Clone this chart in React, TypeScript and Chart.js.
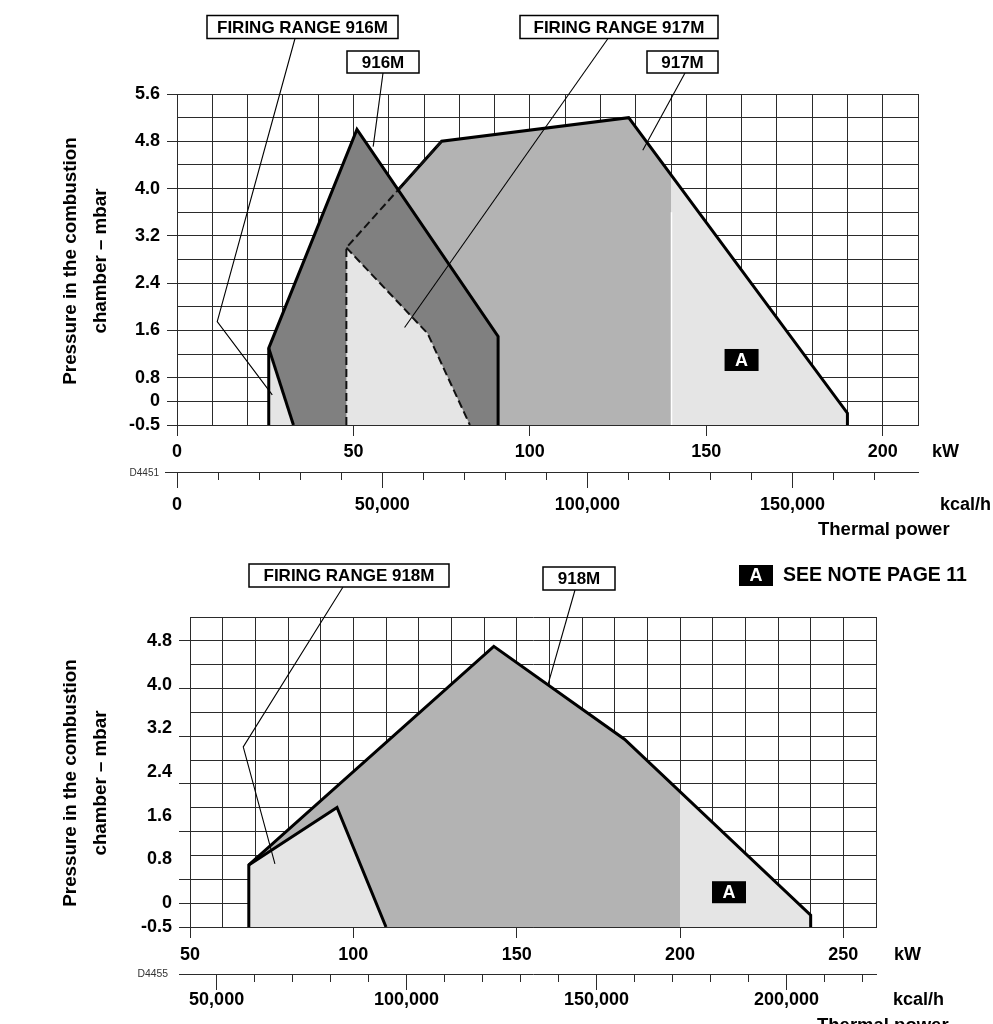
import React, { useEffect, useRef } from 'react';
import { Chart, registerables } from 'chart.js';

Chart.register(...registerables);

const FONT = "'Liberation Sans', Arial, Helvetica, sans-serif";
const KCAL_PER_KW = 859.845;
const GRID = '#2b2b2b';
const INK = '#000000';
const LIGHT = '#e5e5e5';
const MEDIUM = '#b3b3b3';
const DARK = '#808080';

Chart.defaults.font.family = FONT;
Chart.defaults.color = INK;

type Pt = [number, number];

// ================= Upper diagram : 916M / 917M =================
const topKwLabels = [0, 50, 100, 150, 200];
const topKcalTicks = [0, 10000, 20000, 30000, 40000, 50000, 60000, 70000, 80000, 90000, 100000, 110000, 120000, 130000, 140000, 150000, 160000, 170000];
const topKcalLabels = [0, 50000, 100000, 150000];
const topPressureLabels = [-0.5, 0, 0.8, 1.6, 2.4, 3.2, 4.0, 4.8, 5.6];
const topPressureRows: Pt[] = [[-0.5, 0], [0, 1], [0.8, 2], [5.6, 14]];
const topTickRows = [0, 1, 2, 4, 6, 8, 10, 12, 14];

// burner 917M working field (kW, mbar)
const burner917X = [48, 48, 75, 128, 190, 190];
const burner917Y = [-0.5, 3.0, 4.8, 5.2, -0.25, -0.5];
// part of 917M field below 140 kW (outside zone A)
const burner917StdX = [48, 48, 75, 128, 140, 140];
const burner917StdY = [-0.5, 3.0, 4.8, 5.2, 4.25, -0.5];
// burner 916M working field
const burner916X = [26, 26, 51, 91, 91];
const burner916Y = [-0.5, 1.3, 5.0, 1.5, -0.5];
// firing ranges
const firing917X = [48, 48, 71, 83];
const firing917Y = [-0.5, 3.0, 1.55, -0.5];
const firing916X = [26, 26, 33];
const firing916Y = [-0.5, 1.3, -0.5];

// ================= Lower diagram : 918M =================
const botKwLabels = [50, 100, 150, 200, 250];
const botKcalTicks = [50000, 60000, 70000, 80000, 90000, 100000, 110000, 120000, 130000, 140000, 150000, 160000, 170000, 180000, 190000, 200000, 210000, 220000];
const botKcalLabels = [50000, 100000, 150000, 200000];
const botPressureLabels = [-0.5, 0, 0.8, 1.6, 2.4, 3.2, 4.0, 4.8];
const botPressureRows: Pt[] = [[-0.5, 0], [0, 1], [4.8, 12]];
const botTickRows = [0, 1, 2, 4, 6, 8, 10, 12];

const burner918X = [68, 68, 143, 183, 240, 240];
const burner918Y = [-0.5, 0.7, 4.7, 3.0, -0.25, -0.5];
const burner918StdX = [68, 68, 143, 183, 200, 200];
const burner918StdY = [-0.5, 0.7, 4.7, 3.0, 2.04, -0.5];
const firing918X = [68, 68, 95, 110];
const firing918Y = [-0.5, 0.7, 1.75, -0.5];

// ---------------------------------------------------------------
interface Layer { kind: 'fill' | 'line' | 'dash'; xs: number[]; ys: number[]; color?: string }
interface Callout { text: string; box: [number, number, number, number]; anchor: Pt; path: Pt[] }
interface TextItem { text: string; x: number; y: number; size: number; align: CanvasTextAlign; weight?: string; color?: string }
interface Frame {
  left: number; right: number; top: number; bottom: number;
  labelAxisWidth: number; yTickLen: number; xTickLen: number;
  xHeight: number; x2Height: number; xPad: number; x2Pad: number; yPad: number;
}
interface Spec {
  kwMin: number; kwMax: number; kwLabels: number[];
  kcalTicks: number[]; kcalLabels: number[];
  pressureLabels: number[]; pressureRows: Pt[]; gridRows: number; tickRows: number[];
  layers: Layer[];
  frame: Frame;
  texts: TextItem[];
  titles: TextItem[];
  callouts: Callout[];
  marks: Pt[];
  separators: { x: number; from: number; to: number }[];
  axisLineFrom: number;
  legend?: { box: [number, number, number, number]; text: string; x: number; y: number; size: number };
}

function rowMapper(breaks: Pt[]) {
  return (p: number) => {
    const n = breaks.length;
    let i = 0;
    while (i < n - 2 && p > breaks[i + 1][0]) i++;
    const [p0, r0] = breaks[i];
    const [p1, r1] = breaks[i + 1];
    return r0 + ((p - p0) * (r1 - r0)) / (p1 - p0);
  };
}

const fmtP = (p: number) => (p === 0 ? '0' : p.toFixed(1));
const font = (size: number, weight = 'bold') => `${weight} ${size}px ${FONT}`;
const align = (v: number) => Math.round(v - 0.5) + 0.5;

const topSpec: Spec = {
  kwMin: 0, kwMax: 210, kwLabels: topKwLabels,
  kcalTicks: topKcalTicks, kcalLabels: topKcalLabels,
  pressureLabels: topPressureLabels, pressureRows: topPressureRows, gridRows: 14, tickRows: topTickRows,
  layers: [
    { kind: 'fill', xs: burner917X, ys: burner917Y, color: LIGHT },
    { kind: 'fill', xs: burner917StdX, ys: burner917StdY, color: MEDIUM },
    { kind: 'line', xs: burner917X.slice(1), ys: burner917Y.slice(1) },
    { kind: 'fill', xs: burner916X, ys: burner916Y, color: DARK },
    { kind: 'fill', xs: firing917X, ys: firing917Y, color: LIGHT },
    { kind: 'fill', xs: firing916X, ys: firing916Y, color: LIGHT },
    { kind: 'dash', xs: burner917X.slice(0, 3), ys: burner917Y.slice(0, 3) },
    { kind: 'dash', xs: firing917X.slice(1), ys: firing917Y.slice(1) },
    { kind: 'line', xs: burner916X, ys: burner916Y },
    { kind: 'line', xs: firing916X.slice(1), ys: firing916Y.slice(1) },
  ],
  frame: {
    left: 177, right: 918, top: 94, bottom: 425,
    labelAxisWidth: 167, yTickLen: 10, xTickLen: 11,
    xHeight: 47, x2Height: 80, xPad: 5, x2Pad: 14, yPad: 7,
  },
  texts: [
    { text: 'kW', x: 932, y: 452, size: 18, align: 'left' },
    { text: 'kcal/h', x: 940, y: 505, size: 18, align: 'left' },
    { text: 'Thermal power', x: 818, y: 530, size: 18.5, align: 'left' },
    { text: 'D4451', x: 159, y: 473, size: 10, align: 'left', weight: 'normal', color: '#333333' },
  ],
  titles: [
    { text: 'Pressure in the combustion', x: 71, y: 261, size: 18.8, align: 'center' },
    { text: 'chamber – mbar', x: 101, y: 261, size: 18.8, align: 'center' },
  ],
  callouts: [
    { text: 'FIRING RANGE 916M', box: [207, 15.5, 191, 23], anchor: [295, 38.5], path: [[11.4, 1.75], [27, 0.22]] },
    { text: '916M', box: [347, 51, 72, 22], anchor: [383, 73], path: [[55.6, 4.71]] },
    { text: 'FIRING RANGE 917M', box: [520, 15.5, 198, 23], anchor: [608, 38.5], path: [[64.5, 1.65]] },
    { text: '917M', box: [647, 51, 71, 22], anchor: [685, 73], path: [[132, 4.65]] },
  ],
  marks: [[160, 1.1]],
  separators: [{ x: 140, from: -0.5, to: 3.6 }],
  axisLineFrom: 165,
};
topSpec.texts[3].align = 'right';

const botSpec: Spec = {
  kwMin: 50, kwMax: 260, kwLabels: botKwLabels,
  kcalTicks: botKcalTicks, kcalLabels: botKcalLabels,
  pressureLabels: botPressureLabels, pressureRows: botPressureRows, gridRows: 13, tickRows: botTickRows,
  layers: [
    { kind: 'fill', xs: burner918X, ys: burner918Y, color: LIGHT },
    { kind: 'fill', xs: burner918StdX, ys: burner918StdY, color: MEDIUM },
    { kind: 'fill', xs: firing918X, ys: firing918Y, color: LIGHT },
    { kind: 'line', xs: burner918X, ys: burner918Y },
    { kind: 'line', xs: firing918X.slice(1), ys: firing918Y.slice(1) },
  ],
  frame: {
    left: 190, right: 876, top: 617, bottom: 927,
    labelAxisWidth: 179, yTickLen: 11, xTickLen: 11,
    xHeight: 47, x2Height: 50, xPad: 6, x2Pad: 7, yPad: 7,
  },
  texts: [
    { text: 'kW', x: 894, y: 955, size: 18, align: 'left' },
    { text: 'kcal/h', x: 893, y: 1000, size: 18, align: 'left' },
    { text: 'Thermal power', x: 817, y: 1026, size: 18.5, align: 'left' },
    { text: 'D4455', x: 168, y: 974, size: 10.4, align: 'right', weight: 'normal', color: '#333333' },
  ],
  titles: [
    { text: 'Pressure in the combustion', x: 71, y: 783, size: 18.8, align: 'center' },
    { text: 'chamber – mbar', x: 101, y: 783, size: 18.8, align: 'center' },
  ],
  callouts: [
    { text: 'FIRING RANGE 918M', box: [249, 564, 200, 23], anchor: [343, 587], path: [[66.3, 2.86], [76, 0.72]] },
    { text: '918M', box: [543, 567, 72, 23], anchor: [575, 590], path: [[159.5, 3.98]] },
  ],
  marks: [[215, 0.2]],
  separators: [],
  axisLineFrom: 179,
  legend: { box: [739, 565, 34, 21], text: 'SEE NOTE PAGE 11', x: 783, y: 576, size: 19.5 },
};

function drawA(ctx: CanvasRenderingContext2D, x: number, y: number, w: number, h: number) {
  ctx.fillStyle = INK;
  ctx.fillRect(x, y, w, h);
  ctx.fillStyle = '#ffffff';
  ctx.font = font(18);
  ctx.textAlign = 'center';
  ctx.textBaseline = 'middle';
  ctx.fillText('A', x + w / 2, y + h / 2 + 1);
}

function buildChart(canvas: HTMLCanvasElement, s: Spec): Chart {
  const rowOf = rowMapper(s.pressureRows);
  const f = s.frame;
  const tickFont = { family: FONT, size: 18, weight: 'bold' as const };
  const clear = 'rgba(0,0,0,0)';

  const datasets = s.layers.map((L, i) => {
    const data = L.xs.map((x, j) => ({ x, y: rowOf(L.ys[j]) }));
    const base: any = {
      data, xAxisID: 'x', yAxisID: 'y', order: 1000 - i,
      pointRadius: 0, pointHoverRadius: 0, tension: 0,
    };
    if (L.kind === 'fill') {
      return { ...base, fill: 'shape', backgroundColor: L.color, borderColor: clear, borderWidth: 0 };
    }
    if (L.kind === 'line') {
      return { ...base, fill: false, borderColor: INK, borderWidth: 3, borderJoinStyle: 'miter', borderCapStyle: 'butt' };
    }
    return { ...base, fill: false, borderColor: '#111111', borderWidth: 2, borderDash: [8, 4] };
  });

  const decor = {
    id: 'decor',
    afterDraw(chart: any) {
      const ctx: CanvasRenderingContext2D = chart.ctx;
      const sx = chart.scales.x;
      const sy = chart.scales.y;
      const sk = chart.scales.x2;
      const P = (pt: Pt): Pt => [sx.getPixelForValue(pt[0]), sy.getPixelForValue(rowOf(pt[1]))];
      ctx.save();

      // white separation line at the zone A boundary
      ctx.strokeStyle = '#ffffff';
      ctx.lineWidth = 1.5;
      for (const sep of s.separators) {
        const [x0, y0] = P([sep.x, sep.from]);
        const [, y1] = P([sep.x, sep.to]);
        ctx.beginPath();
        ctx.moveTo(align(x0), y0);
        ctx.lineTo(align(x0), y1);
        ctx.stroke();
      }

      // kcal/h axis: baseline extension and long major ticks
      ctx.strokeStyle = GRID;
      ctx.lineWidth = 1;
      const by = align(sk.top);
      ctx.beginPath();
      ctx.moveTo(s.axisLineFrom, by);
      ctx.lineTo(chart.chartArea.left, by);
      ctx.stroke();
      for (const v of s.kcalLabels) {
        const x = align(sk.getPixelForValue(v));
        ctx.beginPath();
        ctx.moveTo(x, sk.top + 7);
        ctx.lineTo(x, sk.top + 16);
        ctx.stroke();
      }

      // free texts
      for (const t of s.texts) {
        ctx.font = font(t.size, t.weight ?? 'bold');
        ctx.fillStyle = t.color ?? INK;
        ctx.textAlign = t.align;
        ctx.textBaseline = 'middle';
        ctx.fillText(t.text, t.x, t.y);
      }
      // vertical axis title (two lines)
      for (const t of s.titles) {
        ctx.save();
        ctx.translate(t.x, t.y);
        ctx.rotate(-Math.PI / 2);
        ctx.font = font(t.size);
        ctx.fillStyle = INK;
        ctx.textAlign = 'center';
        ctx.textBaseline = 'middle';
        ctx.fillText(t.text, 0, 0);
        ctx.restore();
      }

      // callouts
      for (const c of s.callouts) {
        ctx.strokeStyle = INK;
        ctx.lineWidth = 1.1;
        ctx.beginPath();
        ctx.moveTo(c.anchor[0], c.anchor[1]);
        for (const p of c.path) {
          const [x, y] = P(p);
          ctx.lineTo(x, y);
        }
        ctx.stroke();
        const [bx, bY, bw, bh] = c.box;
        ctx.fillStyle = '#ffffff';
        ctx.fillRect(bx, bY, bw, bh);
        ctx.lineWidth = 1.5;
        ctx.strokeRect(bx, bY, bw, bh);
        ctx.fillStyle = INK;
        ctx.font = font(17);
        ctx.textAlign = 'center';
        ctx.textBaseline = 'middle';
        ctx.fillText(c.text, bx + bw / 2, bY + bh / 2 + 1);
      }

      // zone A marks
      for (const m of s.marks) {
        const [x, y] = P(m);
        drawA(ctx, x - 17, y - 11, 34, 22);
      }
      if (s.legend) {
        const [lx, ly, lw, lh] = s.legend.box;
        drawA(ctx, lx, ly, lw, lh);
        ctx.fillStyle = INK;
        ctx.font = font(s.legend.size);
        ctx.textAlign = 'left';
        ctx.textBaseline = 'middle';
        ctx.fillText(s.legend.text, s.legend.x, s.legend.y);
      }
      ctx.restore();
    },
  };

  return new Chart(canvas, {
    type: 'line',
    data: { datasets },
    options: {
      responsive: false,
      animation: false,
      devicePixelRatio: 1,
      events: [],
      layout: {
        padding: {
          left: 0,
          top: f.top,
          right: 993 - f.right,
          bottom: 1024 - f.bottom - f.xHeight - f.x2Height,
        },
      },
      plugins: {
        legend: { display: false },
        tooltip: { enabled: false },
        title: { display: false },
      },
      scales: {
        x: {
          type: 'linear', axis: 'x', position: 'bottom', weight: 0, z: 1, bounds: 'data',
          min: s.kwMin, max: s.kwMax,
          ticks: {
            stepSize: 10, autoSkip: false, maxRotation: 0, minRotation: 0, padding: f.xPad,
            color: INK, font: tickFont,
            callback: (v: any) => (s.kwLabels.includes(Number(v)) ? String(v) : ''),
          },
          grid: {
            display: true, drawOnChartArea: true, color: GRID, lineWidth: 1,
            drawTicks: true, tickLength: f.xTickLen,
            tickColor: (c: any) => (c.tick && s.kwLabels.includes(c.tick.value) ? GRID : clear),
          },
          border: { display: true, color: GRID, width: 1 },
          afterFit: (sc: any) => { sc.height = f.xHeight; },
        },
        x2: {
          type: 'linear', axis: 'x', position: 'bottom', weight: 1, bounds: 'data',
          min: s.kwMin * KCAL_PER_KW, max: s.kwMax * KCAL_PER_KW,
          afterBuildTicks: (sc: any) => { sc.ticks = s.kcalTicks.map((v) => ({ value: v })); },
          ticks: {
            autoSkip: false, maxRotation: 0, minRotation: 0, padding: f.x2Pad,
            color: INK, font: tickFont,
            callback: (v: any) => (s.kcalLabels.includes(Number(v)) ? Number(v).toLocaleString('en-US') : ''),
          },
          grid: {
            display: true, drawOnChartArea: false, drawTicks: true, tickLength: 8,
            color: GRID, tickColor: GRID, lineWidth: 1,
          },
          border: { display: true, color: GRID, width: 1 },
          afterFit: (sc: any) => { sc.height = f.x2Height; },
        },
        yGrid: {
          type: 'linear', axis: 'y', position: 'left', weight: 0, z: 1, bounds: 'data',
          min: 0, max: s.gridRows,
          ticks: { stepSize: 1, autoSkip: false, padding: 0, font: tickFont, callback: () => '' },
          grid: {
            display: true, color: GRID, lineWidth: 1, drawTicks: true, tickLength: f.yTickLen,
            tickColor: (c: any) => (c.tick && s.tickRows.includes(c.tick.value) ? GRID : clear),
          },
          border: { display: true, color: GRID, width: 1 },
          afterFit: (sc: any) => { sc.width = f.yTickLen; },
        },
        y: {
          type: 'linear', axis: 'y', position: 'left', weight: 1, bounds: 'data',
          min: 0, max: s.gridRows,
          afterBuildTicks: (sc: any) => { sc.ticks = s.pressureLabels.map((p) => ({ value: rowOf(p) })); },
          ticks: {
            autoSkip: false, padding: f.yPad, color: INK, font: tickFont,
            callback: (_v: any, i: number) => fmtP(s.pressureLabels[i]),
          },
          grid: { display: false, drawTicks: false, drawOnChartArea: false },
          border: { display: false },
          afterFit: (sc: any) => { sc.width = f.labelAxisWidth; },
        },
      } as any,
    },
    plugins: [decor],
  } as any);
}

function Diagram({ spec }: { spec: Spec }) {
  const ref = useRef<HTMLCanvasElement>(null);
  useEffect(() => {
    if (!ref.current) return;
    const chart = buildChart(ref.current, spec);
    return () => chart.destroy();
  }, [spec]);
  return (
    <canvas
      ref={ref}
      width={993}
      height={1024}
      style={{ position: 'absolute', left: 0, top: 0, width: 993, height: 1024 }}
    />
  );
}

export default function App() {
  return (
    <div
      style={{
        position: 'absolute', left: 0, top: 0, width: 993, height: 1024,
        overflow: 'hidden', background: '#ffffff',
      }}
    >
      <Diagram spec={botSpec} />
      <Diagram spec={topSpec} />
    </div>
  );
}
